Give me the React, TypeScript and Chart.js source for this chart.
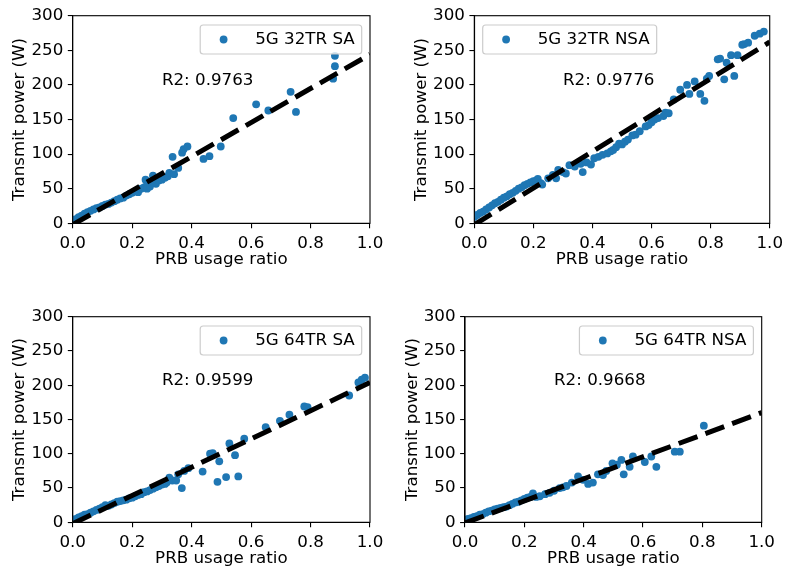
import React, { useEffect, useRef } from "react";
import { Chart, registerables } from "chart.js";

Chart.register(...registerables);

// ---------- data ----------
const X_TICKS = [0, 0.2, 0.4, 0.6, 0.8, 1.0];
const Y_TICKS = [0, 50, 100, 150, 200, 250, 300];
const FIT_X = [0, 1];

// 5G 32TR SA
const sa32X = [0.0, 0.01, 0.02, 0.03, 0.04, 0.05, 0.06, 0.07, 0.08, 0.09, 0.10, 0.11, 0.12, 0.13, 0.14, 0.15, 0.16, 0.17, 0.18, 0.19, 0.20, 0.21, 0.22, 0.22, 0.23, 0.24, 0.245, 0.25, 0.25, 0.26, 0.26, 0.265, 0.27, 0.275, 0.28, 0.28, 0.29, 0.295, 0.30, 0.31, 0.32, 0.325, 0.336, 0.341, 0.355, 0.368, 0.373, 0.386, 0.44, 0.46, 0.498, 0.54, 0.617, 0.658, 0.733, 0.751, 0.876, 0.882, 0.882];
const sa32Y = [4, 6, 9, 11, 14, 16, 18, 20, 22, 23, 25, 27, 28, 30, 32, 34, 36, 37, 40, 42, 44, 46, 48, 45, 50, 52, 63, 55, 50, 57, 53, 60, 69, 58, 57, 60, 62, 67, 63, 66, 68, 73, 96, 71, 80, 102, 107, 111, 93, 97, 111, 152, 172, 163, 190, 161, 209, 227, 242];
const sa32Fit = [-2, 244];

// 5G 32TR NSA
const nsa32X = [0.0, 0.01, 0.02, 0.03, 0.04, 0.05, 0.06, 0.07, 0.08, 0.09, 0.10, 0.11, 0.12, 0.13, 0.14, 0.15, 0.16, 0.17, 0.18, 0.19, 0.20, 0.21, 0.215, 0.225, 0.23, 0.25, 0.266, 0.277, 0.284, 0.30, 0.31, 0.322, 0.34, 0.36, 0.367, 0.38, 0.395, 0.406, 0.42, 0.434, 0.45, 0.462, 0.47, 0.48, 0.49, 0.50, 0.51, 0.52, 0.535, 0.546, 0.56, 0.58, 0.59, 0.60, 0.61, 0.622, 0.64, 0.647, 0.658, 0.675, 0.697, 0.72, 0.728, 0.746, 0.765, 0.779, 0.787, 0.795, 0.824, 0.832, 0.846, 0.854, 0.869, 0.88, 0.891, 0.907, 0.914, 0.927, 0.949, 0.966, 0.98];
const nsa32Y = [9, 12, 15, 17, 20, 23, 26, 29, 31, 34, 37, 39, 42, 44, 47, 50, 52, 55, 57, 59, 61, 62, 64, 58, 56, 65, 70, 65, 77, 74, 72, 84, 82, 86, 74, 88, 85, 94, 96, 99, 101, 104, 106, 110, 115, 114, 118, 121, 127, 128, 133, 140, 142, 146, 150, 152, 155, 160, 159, 179, 193, 200, 187, 205, 187, 177, 209, 213, 237, 238, 208, 232, 243, 213, 243, 258, 259, 261, 271, 274, 277];
const nsa32Fit = [-2, 262];

// 5G 64TR SA
const sa64X = [0.0, 0.01, 0.02, 0.03, 0.04, 0.05, 0.06, 0.07, 0.08, 0.09, 0.10, 0.11, 0.12, 0.13, 0.14, 0.15, 0.16, 0.17, 0.18, 0.19, 0.20, 0.21, 0.22, 0.23, 0.24, 0.25, 0.26, 0.27, 0.28, 0.29, 0.30, 0.31, 0.316, 0.325, 0.335, 0.348, 0.355, 0.367, 0.375, 0.389, 0.437, 0.462, 0.471, 0.487, 0.493, 0.516, 0.527, 0.546, 0.557, 0.577, 0.649, 0.697, 0.729, 0.779, 0.790, 0.930, 0.961, 0.972, 0.983];
const sa64Y = [3, 5, 7, 9, 11, 12, 14, 16, 18, 20, 22, 25, 24, 26, 28, 30, 31, 32, 33, 35, 36, 38, 40, 41, 44, 45, 47, 49, 51, 53, 55, 56, 58, 65, 61, 61, 70, 50, 75, 79, 74, 100, 101, 59, 89, 66, 115, 98, 67, 122, 139, 148, 157, 169, 168, 185, 204, 208, 211];
const sa64Fit = [-2, 204];

// 5G 64TR NSA
const nsa64X = [0.0, 0.01, 0.02, 0.03, 0.04, 0.05, 0.06, 0.07, 0.08, 0.09, 0.10, 0.11, 0.12, 0.13, 0.14, 0.15, 0.16, 0.17, 0.18, 0.19, 0.20, 0.21, 0.22, 0.229, 0.24, 0.252, 0.27, 0.285, 0.30, 0.319, 0.33, 0.342, 0.36, 0.381, 0.398, 0.415, 0.431, 0.448, 0.465, 0.476, 0.497, 0.512, 0.527, 0.535, 0.555, 0.566, 0.606, 0.628, 0.645, 0.707, 0.724, 0.805];
const nsa64Y = [3, 5, 6, 8, 9, 11, 12, 14, 16, 17, 19, 20, 21, 22, 23, 25, 27, 29, 30, 32, 34, 36, 37, 42, 37, 38, 41, 43, 46, 50, 51, 53, 58, 67, 62, 56, 58, 70, 69, 75, 86, 84, 91, 70, 81, 96, 88, 96, 81, 103, 103, 141];
const nsa64Fit = [-1, 160];

const LABELS = ["5G 32TR SA", "5G 32TR NSA", "5G 64TR SA", "5G 64TR NSA"];
const R2_TEXT = ["R2: 0.9763", "R2: 0.9776", "R2: 0.9599", "R2: 0.9668"];

// ---------- layout ----------
type Box = { l: number; t: number; w: number; h: number };
type Area = { l: number; t: number; r: number; b: number };

const PANELS: {
  xs: number[];
  ys: number[];
  fit: number[];
  label: string;
  r2: string;
  legendLoc: "left" | "right";
  canvas: Box;
  area: Area;
}[] = [
  { xs: sa32X, ys: sa32Y, fit: sa32Fit, label: LABELS[0], r2: R2_TEXT[0], legendLoc: "right",
    canvas: { l: 0, t: 0, w: 394, h: 290 }, area: { l: 72.7, t: 15.7, r: 370, b: 223.3 } },
  { xs: nsa32X, ys: nsa32Y, fit: nsa32Fit, label: LABELS[1], r2: R2_TEXT[1], legendLoc: "left",
    canvas: { l: 394, t: 0, w: 394, h: 290 }, area: { l: 474.3, t: 15.7, r: 771.7, b: 223.3 } },
  { xs: sa64X, ys: sa64Y, fit: sa64Fit, label: LABELS[2], r2: R2_TEXT[2], legendLoc: "right",
    canvas: { l: 0, t: 290, w: 394, h: 285 }, area: { l: 72.7, t: 316.7, r: 370, b: 522.3 } },
  { xs: nsa64X, ys: nsa64Y, fit: nsa64Fit, label: LABELS[3], r2: R2_TEXT[3], legendLoc: "right",
    canvas: { l: 394, t: 290, w: 394, h: 285 }, area: { l: 465, t: 316.7, r: 761.7, b: 522.3 } },
];

const BLUE = "#1f77b4";
const FONT = "DejaVu Sans";
const FS = 16.7;
const LH = FS * 1.2;
const MARKER_R = 3.9;

const decorPlugin = {
  id: "decor",
  afterDraw(chart: any, _args: any, o: any) {
    const { ctx, chartArea: a, scales } = chart;
    ctx.save();
    // full frame
    ctx.strokeStyle = "#000";
    ctx.lineWidth = 1.1;
    ctx.strokeRect(a.left, a.top, a.right - a.left, a.bottom - a.top);
    // R2 annotation at data (0.3, 200)
    ctx.font = `${FS}px "${FONT}"`;
    ctx.fillStyle = "#000";
    ctx.textAlign = "left";
    ctx.textBaseline = "alphabetic";
    ctx.fillText(o.r2, scales.x.getPixelForValue(0.3), scales.y.getPixelForValue(200));
    // legend box
    const tw = ctx.measureText(o.label).width;
    const w = 55 + tw + 7;
    const h = 29;
    const lx = o.legendLoc === "left" ? a.left + 8.4 : a.right - 8.3 - w;
    const ly = a.top + 9.3;
    const r = 3;
    ctx.beginPath();
    ctx.moveTo(lx + r, ly);
    ctx.lineTo(lx + w - r, ly);
    ctx.arcTo(lx + w, ly, lx + w, ly + r, r);
    ctx.lineTo(lx + w, ly + h - r);
    ctx.arcTo(lx + w, ly + h, lx + w - r, ly + h, r);
    ctx.lineTo(lx + r, ly + h);
    ctx.arcTo(lx, ly + h, lx, ly + h - r, r);
    ctx.lineTo(lx, ly + r);
    ctx.arcTo(lx, ly, lx + r, ly, r);
    ctx.closePath();
    ctx.fillStyle = "rgba(255,255,255,0.8)";
    ctx.fill();
    ctx.strokeStyle = "#cccccc";
    ctx.lineWidth = 1.2;
    ctx.stroke();
    ctx.beginPath();
    ctx.arc(lx + 23.4, ly + h / 2, MARKER_R, 0, Math.PI * 2);
    ctx.fillStyle = BLUE;
    ctx.fill();
    ctx.fillStyle = "#000";
    ctx.textBaseline = "middle";
    ctx.fillText(o.label, lx + 55, ly + h / 2 + 0.5);
    ctx.restore();
  },
};

function Panel({ p }: { p: (typeof PANELS)[number] }) {
  const ref = useRef<HTMLCanvasElement | null>(null);
  useEffect(() => {
    if (!ref.current) return;
    const { canvas: c, area } = p;
    const yAxisWidth = area.l - c.l;
    const xAxisHeight = c.t + c.h - area.b;
    const yTitlePad = area.l - 52.7 - c.l - LH / 2;
    const xTitlePad = c.t + c.h - (area.b + 36) - LH / 2;
    const font = { family: FONT, size: FS };
    const chart = new Chart(ref.current, {
      type: "scatter",
      data: {
        datasets: [
          {
            data: FIT_X.map((x, i) => ({ x, y: p.fit[i] })),
            showLine: true,
            borderColor: "#000",
            backgroundColor: "#000",
            borderWidth: 5,
            borderDash: [20, 8.5],
            pointRadius: 0,
            clip: 0,
          } as any,
          {
            data: p.xs.map((x, i) => ({ x, y: p.ys[i] })),
            backgroundColor: BLUE,
            borderWidth: 0,
            pointRadius: MARKER_R,
            pointHoverRadius: MARKER_R,
            clip: 0,
          } as any,
        ],
      },
      options: {
        responsive: false,
        animation: false,
        events: [],
        layout: {
          padding: { left: 0, top: area.t - c.t, right: c.l + c.w - area.r, bottom: 0 },
        },
        plugins: {
          legend: { display: false },
          tooltip: { enabled: false },
          decor: { r2: p.r2, label: p.label, legendLoc: p.legendLoc },
        } as any,
        scales: {
          x: {
            type: "linear",
            min: 0,
            max: 1,
            afterBuildTicks: (s: any) => {
              s.ticks = X_TICKS.map((v) => ({ value: v }));
            },
            afterFit: (s: any) => {
              s.height = xAxisHeight;
            },
            ticks: {
              autoSkip: false,
              maxRotation: 0,
              padding: 5,
              color: "#000",
              font,
              callback: (v: any) => Number(v).toFixed(1),
            },
            grid: { display: true, drawOnChartArea: false, drawTicks: true, tickLength: 4.9, color: "#000", lineWidth: 1.1 },
            border: { display: true, color: "#000", width: 1.1 },
            title: { display: true, text: "PRB usage ratio", color: "#000", font, padding: { top: 0, bottom: xTitlePad } },
          },
          y: {
            type: "linear",
            min: 0,
            max: 300,
            afterBuildTicks: (s: any) => {
              s.ticks = Y_TICKS.map((v) => ({ value: v }));
            },
            afterFit: (s: any) => {
              s.width = yAxisWidth;
            },
            ticks: { autoSkip: false, padding: 4.5, color: "#000", font, callback: (v: any) => String(v) },
            grid: { display: true, drawOnChartArea: false, drawTicks: true, tickLength: 4.9, color: "#000", lineWidth: 1.1 },
            border: { display: true, color: "#000", width: 1.1 },
            title: { display: true, text: "Transmit power (W)", color: "#000", font, padding: { top: yTitlePad, bottom: 0 } },
          },
        },
      } as any,
      plugins: [decorPlugin as any],
    });
    return () => chart.destroy();
  }, [p]);
  const c = p.canvas;
  return (
    <canvas
      ref={ref}
      width={c.w}
      height={c.h}
      style={{ position: "absolute", left: c.l, top: c.t, width: c.w, height: c.h, display: "block" }}
    />
  );
}

export default function App() {
  return (
    <div style={{ position: "absolute", left: 0, top: 0, width: 788, height: 575, background: "#fff" }}>
      {PANELS.map((p, i) => (
        <Panel key={i} p={p} />
      ))}
    </div>
  );
}
